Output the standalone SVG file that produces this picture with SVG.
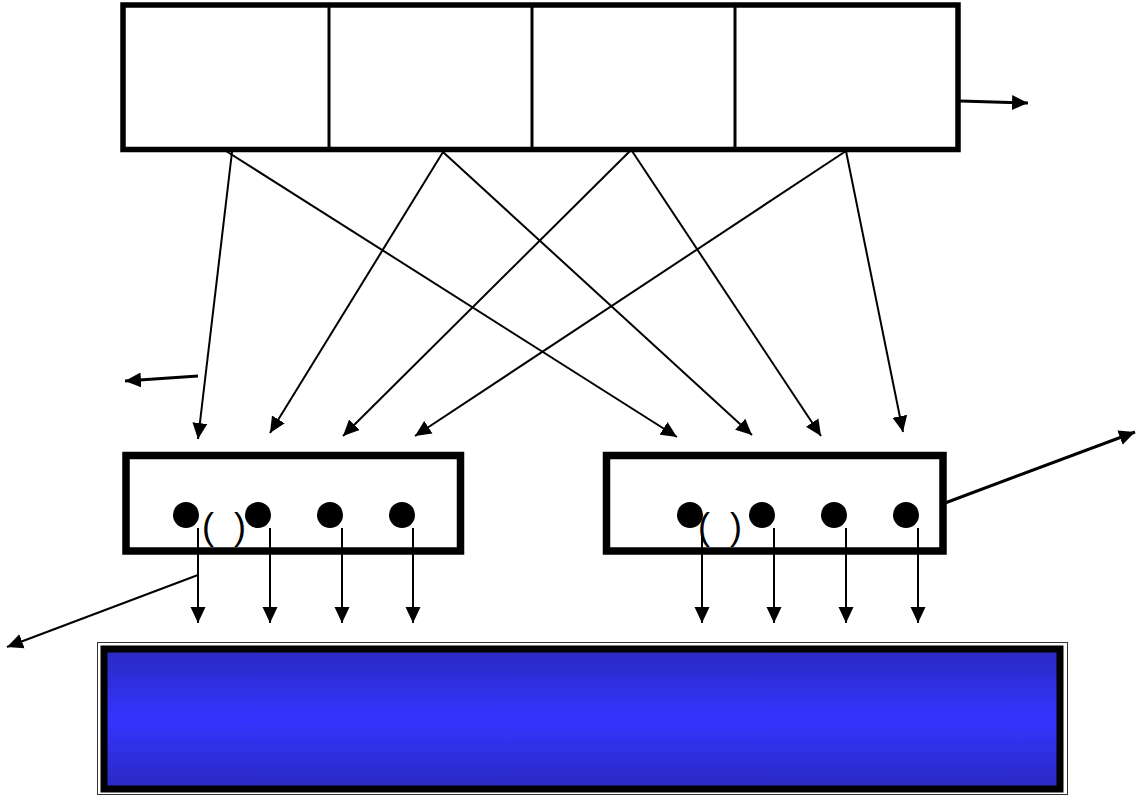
<svg xmlns="http://www.w3.org/2000/svg" width="1139" height="796" viewBox="0 0 1139 796">
  <style>
    .frame { fill: #ffffff; stroke: #000000; }
    .cell { stroke: #000000; stroke-width: 3; }
    .wire { fill: none; stroke: #000000; stroke-width: 2; marker-end: url(#head); }
    .wire-bold { fill: none; stroke: #000000; stroke-width: 3; marker-end: url(#head); }
    .dot { fill: #000000; }
    .paren { font-family: "Liberation Sans", Arial, sans-serif; font-size: 36px; fill: #000000; white-space: pre; }
  </style>
  <defs>
    <marker id="head" markerUnits="userSpaceOnUse" markerWidth="17" markerHeight="16" refX="16" refY="8" orient="auto">
      <path d="M0,0.5 L16,8 L0,15.5 z" fill="#000000"/>
    </marker>
    <linearGradient id="blueFill" x1="0" y1="0" x2="0" y2="1">
      <stop offset="0" stop-color="#2a2ac2"/>
      <stop offset="0.5" stop-color="#3434ff"/>
      <stop offset="1" stop-color="#2a2ac2"/>
    </linearGradient>
  </defs>

  <rect width="1139" height="796" fill="#ffffff"/>

  <!-- top register with four cells -->
  <g id="register">
    <rect class="frame" x="123" y="5" width="835" height="144.5" stroke-width="5.5"/>
    <line class="cell" x1="329" y1="5" x2="329" y2="149"/>
    <line class="cell" x1="532" y1="5" x2="532" y2="149"/>
    <line class="cell" x1="735" y1="5" x2="735" y2="149"/>
  </g>

  <!-- left unit -->
  <g id="unit-left">
    <rect class="frame" x="126" y="455.5" width="334.5" height="95.5" stroke-width="7.5"/>
    <circle class="dot" cx="186" cy="515" r="13"/>
    <circle class="dot" cx="258" cy="515" r="13"/>
    <circle class="dot" cx="330" cy="515" r="13"/>
    <circle class="dot" cx="402" cy="515" r="13"/>
    <text class="paren" x="202" y="539">(  )</text>
  </g>

  <!-- right unit -->
  <g id="unit-right">
    <rect class="frame" x="606.5" y="455.5" width="336.5" height="95.5" stroke-width="7.5"/>
    <circle class="dot" cx="690" cy="515" r="13"/>
    <circle class="dot" cx="762" cy="515" r="13"/>
    <circle class="dot" cx="834" cy="515" r="13"/>
    <circle class="dot" cx="906" cy="515" r="13"/>
    <text class="paren" x="698" y="539">(  )</text>
  </g>

  <!-- bottom bus -->
  <g id="bus">
    <rect x="97.5" y="642.5" width="970" height="152" fill="none" stroke="#333333" stroke-width="1"/>
    <rect x="104" y="649" width="956" height="140" fill="url(#blueFill)" stroke="#000000" stroke-width="7"/>
  </g>

  <!-- connectors -->
  <g id="connectors">
    <line class="wire" x1="232" y1="152" x2="198" y2="439"/>
    <line class="wire" x1="226" y1="151" x2="677" y2="437"/>
    <line class="wire" x1="443" y1="152" x2="270" y2="433"/>
    <line class="wire" x1="443" y1="152" x2="752" y2="435"/>
    <line class="wire" x1="630" y1="151" x2="343" y2="436"/>
    <line class="wire" x1="632" y1="151" x2="821" y2="436"/>
    <line class="wire" x1="846" y1="151" x2="415" y2="436"/>
    <line class="wire" x1="846" y1="151" x2="903" y2="432"/>

    <line class="wire-bold" x1="960" y1="101" x2="1028" y2="103"/>
    <line class="wire-bold" x1="198" y1="376" x2="125" y2="381"/>
    <line class="wire-bold" x1="945" y1="503" x2="1135" y2="432"/>

    <line class="wire" x1="198" y1="575" x2="7" y2="647"/>

    <line class="wire" x1="198" y1="528" x2="198" y2="623"/>
    <line class="wire" x1="270" y1="528" x2="270" y2="623"/>
    <line class="wire" x1="342" y1="528" x2="342" y2="623"/>
    <line class="wire" x1="413" y1="528" x2="413" y2="623"/>
    <line class="wire" x1="702" y1="528" x2="702" y2="623"/>
    <line class="wire" x1="774" y1="528" x2="774" y2="623"/>
    <line class="wire" x1="846" y1="528" x2="846" y2="623"/>
    <line class="wire" x1="918" y1="528" x2="918" y2="623"/>
  </g>
</svg>
